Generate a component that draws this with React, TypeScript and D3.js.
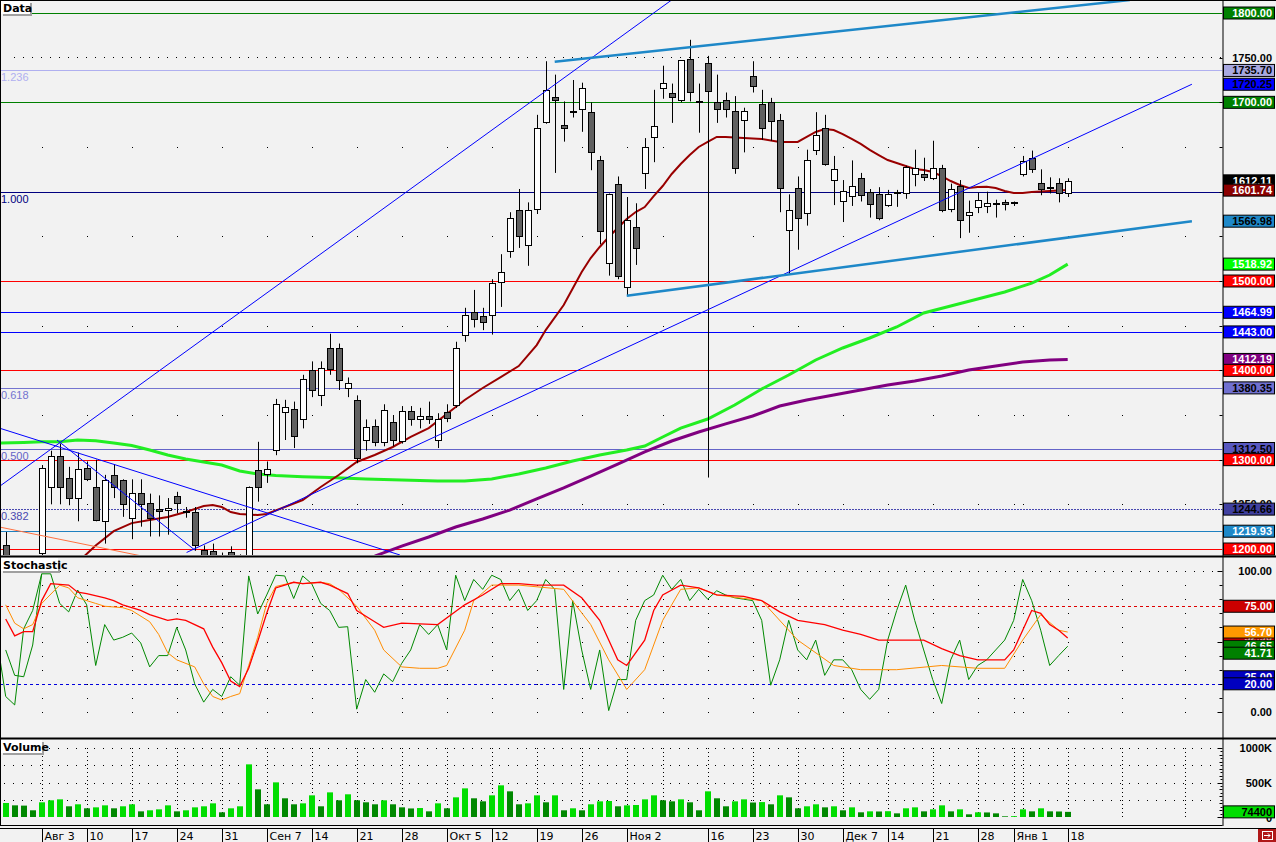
import React from 'react';
import * as d3 from 'd3';

// ---------- data ----------
// daily candles, bar 0 = Jul 28
const opens = [1204, 1180, 1170, 1178, 1196, 1269, 1304, 1279, 1257, 1291, 1269, 1231, 1283, 1277, 1235, 1263, 1251, 1245, 1244, 1259,
  1242, 1241, 1199, 1198, 1192, 1197, 1188, 1193, 1288, 1284, 1311, 1353, 1357, 1345, 1400, 1372, 1425, 1425, 1380, 1367,
  1322, 1338, 1320, 1342, 1321, 1354, 1346, 1349, 1322, 1353, 1361, 1440, 1465, 1461, 1462, 1499, 1534, 1580, 1540, 1581,
  1678, 1706, 1675, 1690, 1693, 1689, 1635, 1520, 1609, 1493, 1560, 1621, 1661, 1716, 1710, 1703, 1749, 1701, 1744, 1700,
  1703, 1690, 1680, 1730, 1698, 1700, 1680, 1557, 1604, 1576, 1647, 1671, 1613, 1589, 1595, 1615, 1600, 1597, 1585, 1599.5,
  1598, 1620, 1620, 1615, 1627, 1581, 1606, 1574, 1583, 1584, 1587, 1588.5, 1587, 1620, 1638, 1610, 1605, 1610, 1598];
const highs = [1219, 1188, 1185, 1190, 1294, 1310, 1318, 1292, 1308, 1298, 1300, 1283, 1295, 1278, 1278, 1278, 1262, 1260, 1257, 1264,
  1247, 1247, 1204, 1206, 1196, 1203, 1194, 1270, 1320, 1298, 1368, 1367, 1365, 1395, 1410, 1410, 1441, 1430, 1392, 1372,
  1345, 1345, 1362, 1350, 1360, 1360, 1358, 1365, 1352, 1362, 1432, 1470, 1490, 1470, 1502, 1530, 1577, 1603, 1588, 1686,
  1746, 1731, 1701, 1725, 1722, 1700, 1640, 1598, 1617, 1594, 1587, 1660, 1714, 1741, 1721, 1747, 1770, 1721, 1752, 1731,
  1711, 1707, 1694, 1746, 1714, 1705, 1687, 1597, 1617, 1647, 1689, 1686, 1640, 1613, 1635, 1621, 1603, 1605, 1602, 1602,
  1629, 1647, 1638, 1657, 1630, 1609, 1613, 1590, 1599, 1600, 1591, 1591, 1589, 1640, 1646, 1625, 1616, 1615, 1615];
const lows = [1175, 1160, 1160, 1165, 1192, 1250, 1250, 1249, 1231, 1276, 1231, 1206, 1257, 1236, 1211, 1225, 1214, 1214, 1216, 1240,
  1235, 1198, 1185, 1185, 1180, 1185, 1178, 1190, 1253, 1274, 1305, 1322, 1313, 1335, 1370, 1360, 1395, 1378, 1370, 1296,
  1310, 1315, 1315, 1315, 1318, 1338, 1335, 1340, 1313, 1342, 1358, 1432, 1448, 1445, 1440, 1471, 1526, 1537, 1517, 1575,
  1676, 1621, 1656, 1683, 1667, 1624, 1541, 1506, 1502, 1484, 1518, 1603, 1633, 1704, 1677, 1700, 1701, 1666, 1280, 1677,
  1683, 1620, 1644, 1711, 1658, 1657, 1577, 1508, 1535, 1562, 1641, 1629, 1585, 1566, 1584, 1589, 1571, 1568, 1583, 1583,
  1592, 1606, 1612, 1613, 1577, 1577, 1548, 1554, 1576, 1576, 1571, 1579, 1584, 1617, 1621, 1596, 1598, 1588, 1594];
const closes = [1185, 1170, 1178, 1188, 1291, 1304, 1269, 1257, 1290, 1278, 1232, 1277, 1269, 1250, 1263, 1250, 1235, 1243, 1246, 1251,
  1241, 1205, 1190, 1192, 1186, 1193, 1190, 1269, 1269, 1289, 1362, 1359, 1326, 1390, 1378, 1403, 1402, 1389, 1386, 1302,
  1337, 1320, 1356, 1322, 1354, 1345, 1349, 1345, 1345, 1347, 1425, 1462, 1457, 1454, 1498, 1510, 1570, 1550, 1580, 1671,
  1714, 1703, 1671, 1690.5, 1716, 1644, 1556, 1597, 1506, 1568, 1537, 1650, 1673, 1722, 1706, 1747, 1712, 1700.5, 1713, 1693,
  1693, 1626, 1690, 1718, 1671, 1679, 1604, 1580, 1571, 1635, 1663, 1631, 1625, 1601, 1606, 1596, 1586, 1571, 1597, 1600,
  1628, 1626, 1616, 1627, 1580, 1603, 1568, 1577, 1591, 1587, 1586.5, 1586.5, 1588, 1634, 1625, 1603, 1605.5, 1598, 1612.11];
// volume, thousands
const volumesK = [203, 169, 165, 97, 213, 242, 256, 155, 184, 126, 140, 169, 126, 155, 184, 82, 97, 111, 169, 82,
  97, 140, 155, 198, 68, 126, 155, 763, 401, 184, 502, 271, 184, 198, 314, 155, 357, 242, 329, 242,
  213, 184, 242, 184, 140, 124, 130, 82, 198, 126, 285, 415, 271, 227, 314, 459, 372, 184, 198, 314,
  213, 314, 97, 126, 97, 184, 227, 232, 155, 169, 174, 256, 314, 242, 227, 256, 213, 97, 372, 271,
  155, 227, 256, 210, 216, 184, 314, 285, 126, 155, 184, 140, 155, 97, 140, 68, 82, 80, 84, 53,
  126, 140, 82, 111, 169, 82, 111, 39, 68, 66, 53, 10, 12, 111, 82, 126, 82, 80, 74.4];

// moving averages [bar, value]
const maShort: [number, number][] = [[8, 1185], [10, 1204], [12, 1220], [14, 1229], [16, 1232.5], [18, 1235.8], [20, 1241.4], [22, 1248.1],
  [23, 1249.2], [24, 1247], [25, 1241.4], [26, 1239.2], [28, 1238], [29, 1239.2], [31, 1247], [33, 1254.8], [35, 1269.4], [37, 1282.8],
  [39, 1297.4], [41, 1305.2], [43, 1314.2], [45, 1325.4], [47, 1335.4], [49, 1351.1], [51, 1366.8], [53, 1380.2], [55, 1392.5],
  [57, 1404.8], [59, 1428.3], [60, 1445.1], [62, 1473.1], [64, 1510.1], [65, 1525.7], [66, 1538.1], [67, 1549.2], [68, 1559.3],
  [69, 1569.4], [70, 1577.2], [71, 1582.8], [72, 1595.1], [73, 1606.3], [74, 1619.8], [75, 1631], [76, 1641], [77, 1650],
  [78, 1655.6], [79, 1661.2], [80, 1661.2], [82, 1660], [84, 1659], [86, 1655.6], [88, 1655.6], [89, 1661.2], [90, 1666.8],
  [91, 1670.1], [92, 1669], [93, 1664.5], [94, 1659], [95, 1653.4], [96, 1646.7], [97, 1641], [98, 1635.4], [99, 1632.1],
  [100, 1628.7], [101, 1625.4], [102, 1624.2], [103, 1622], [104, 1617.5], [105, 1611.9], [106, 1607.5], [107, 1604.1],
  [108, 1605.2], [109, 1605.6], [110, 1604.1], [111, 1600.7], [112, 1598.5], [113, 1598.5], [114, 1599.6], [116, 1600.7], [118, 1601.74]];
const maMid: [number, number][] = [[-0.6, 1318.6], [2, 1319.2], [4, 1320.1], [6, 1320.1], [8, 1322], [10, 1321.2], [12, 1318.6],
  [14, 1315.8], [16, 1310.8], [18, 1305.2], [20, 1300.7], [22, 1297.4], [24, 1294], [26, 1287.3], [28, 1284], [30, 1282.3],
  [33, 1280.9], [36, 1280], [40, 1278.4], [44, 1277.2], [48, 1276.1], [51, 1276.1], [54, 1278.4], [57, 1284], [60, 1290.7],
  [63, 1298.5], [66, 1305.2], [69, 1310.8], [71, 1315.3], [73, 1325.4], [75, 1335.4], [78, 1345.5], [81, 1361.2], [84, 1379.1],
  [87, 1394.8], [90, 1411.6], [93, 1425], [96, 1436.2], [99, 1448.5], [102, 1464.2], [105, 1472], [108, 1479.8], [111, 1487.7],
  [114, 1497.7], [116, 1506.7], [118, 1518.92]];
const maLong: [number, number][] = [[41, 1192.1], [44, 1203.3], [47, 1213.4], [50, 1224.6], [53, 1233.6], [56, 1243.6], [59, 1256],
  [62, 1268.3], [65, 1281.7], [68, 1295.1], [71, 1308.6], [74, 1320.9], [77, 1331], [80, 1340], [83, 1348.9], [86, 1360.1],
  [89, 1366.8], [92, 1372.4], [95, 1378], [98, 1383.6], [101, 1388], [104, 1393.6], [107, 1400.4], [110, 1404.8], [113, 1409.3],
  [116, 1411.5], [118, 1412.19]];

// stochastic
const stochFast = [44, 26, 25, 47.5, 98, 98, 77, 71, 86.5, 76, 33, 62, 51, 53, 56, 49, 32, 40, 40, 60,
  44, 20, 7, 16, 11, 25, 19, 96.5, 69.5, 83, 97, 96.5, 80.5, 96.5, 91, 77, 72, 60, 60.5, 2,
  23, 14, 27, 21.5, 34.5, 44, 62, 55, 62, 44, 97, 79, 94, 87, 97, 94, 79, 87, 72, 79,
  94, 87, 16, 79, 44, 16, 44, 1, 23, 23, 65, 79, 83, 97, 87, 94, 79, 87, 80, 86,
  83, 81, 80, 79, 65, 19, 37, 65, 44, 37, 51, 26, 37, 37, 30, 16, 9, 16, 51, 72,
  90, 65, 44, 23, 6, 37, 51, 23, 33, 37, 44, 51, 65, 94, 79, 58, 33, 40, 46.65];
const stochFast2: [number, number][] = [[-0.6, 36], [0, 11], [1, 5], [2, 59], [3, 72], [4, 98]];
const stochSignal: [number, number][] = [[0, 66], [1, 54], [2, 57], [3, 57], [4, 79], [5, 91], [7, 90], [8, 85], [9, 84], [11, 81], [12, 79],
  [13, 76], [15, 72], [16, 69], [18, 65], [19, 66], [20, 65], [22, 59], [23, 46], [24, 35], [25, 22], [26, 18], [27, 31], [28, 50],
  [29, 70], [30, 88], [32, 92], [33, 91], [35, 92], [36, 90], [38, 84], [39, 72], [41, 64], [42, 60], [44, 63], [48, 62], [51, 76],
  [53, 83], [55, 91], [57, 91], [59, 90], [62, 90], [64, 81], [66, 65], [67, 51], [68, 37], [69, 33], [71, 51], [72, 72], [73, 83],
  [75, 90], [77, 88], [79, 83], [82, 82], [84, 79], [86, 71], [88, 65], [91, 62], [93, 58], [95, 55], [97, 51], [99, 51], [102, 51],
  [104, 45], [106, 40], [108, 37], [111, 37], [112, 44], [113, 58], [114, 72], [115, 70], [116, 62], [117, 58], [118, 52.5]];
const stochSlow: [number, number][] = [[0, 76], [1, 63], [2, 59], [3, 62], [4, 77], [6, 90], [7, 88], [8, 81], [10, 77], [11, 75], [13, 74],
  [14, 72], [16, 64], [17, 55], [18, 42], [19, 37], [21, 32], [22, 20], [23, 11], [24, 8.5], [25, 11], [26, 13], [27, 33], [28, 53],
  [29, 77], [30, 89], [32, 92], [33, 91], [35, 92], [36, 91], [37, 87], [39, 75], [41, 58], [42, 44], [44, 32], [46, 31], [48, 31],
  [49, 33], [51, 58], [52, 79], [54, 90], [57, 90], [62, 87], [65, 62], [67, 37], [69, 16], [71, 30], [73, 65], [75, 87], [77, 88],
  [79, 83], [84, 79], [88, 51], [92, 33], [95, 30], [99, 30], [104, 33], [108, 31], [111, 31], [113, 51], [115, 69], [117, 58], [118, 56.7]];

// drawn objects [bar, price]
const steepLine: [number, number][] = [[-0.63, 1270.5], [74.0, 1814.6]];
const risingLine: [number, number][] = [[20.1, 1196.1], [131.8, 1720.25]];
const fallingLine: [number, number][] = [[-0.63, 1335.1], [43.8, 1193.3]];
const fallingLine2: [number, number][] = [[5.7, 1322], [21, 1198.9]];
const orangeLine: [number, number][] = [[-0.63, 1224.5], [15.2, 1192]];
const channelTop: [number, number][] = [[61, 1745.4], [124.9, 1814.5]];
const channelBottom: [number, number][] = [[69, 1483.5], [131.8, 1566.98]];

const levels = [1800, 1700, 1500, 1464.99, 1443, 1400, 1300, 1219.93, 1200];
const fibValues = [1735.7, 1600, 1380.35, 1312.5, 1244.66];
const fibLabels = ['1.236', '1.000', '0.618', '0.500', '0.382'];

const priceMarks = [1800, 1735.7, 1720.25, 1700, 1612.11, 1601.74, 1566.98, 1518.92, 1500, 1464.99, 1443, 1412.19, 1400, 1380.35, 1312.5, 1300, 1244.66, 1219.93, 1200];
const stochMarks = [75, 52.9, 56.7, 46.65, 41.71, 25, 20];
const lastVolumeK = 74.4;

const tickBars = [4, 9, 14, 19, 24, 29, 34, 39, 44, 49, 54, 59, 64, 69, 78, 83, 88, 93, 98, 103, 108, 112, 118];
const tickLabels = ['Авг 3', '10', '17', '24', '31', 'Сен 7', '14', '21', '28', 'Окт 5', '12', '19', '26', 'Ноя 2', '16', '23', '30', 'Дек 7', '14', '21', '28', 'Янв 1', '18'];
const weekGridBars = [4, 9, 14, 19, 24, 29, 34, 39, 44, 49, 54, 59, 64, 69, 73, 78, 83, 88, 93, 98, 103, 108, 112, 113, 118, 124, 131];

// ---------- styles ----------
const BG = '#f2f2f2';
const levelColors = ['#008000', '#008000', '#ff0000', '#0000ff', '#0000ff', '#ff0000', '#ff0000', '#1e80c0', '#ff0000'];
const fibColors = ['#b0b0f0', '#000080', '#7474d0', '#6464c8', '#4848b0'];
const priceMarkStyle: [string, string][] = [['#008000', '#fff'], ['#a8a8e0', '#000'], ['#0000ff', '#000'], ['#008000', '#fff'],
  ['#000000', '#fff'], ['#8b0000', '#fff'], ['#1e88c8', '#000'], ['#00ff00', '#fff'], ['#ff0000', '#fff'], ['#0000ff', '#fff'],
  ['#0000ff', '#fff'], ['#800080', '#fff'], ['#ff0000', '#fff'], ['#7070d0', '#000'], ['#5858c0', '#000'], ['#ff0000', '#fff'],
  ['#4040a0', '#000'], ['#1e88c8', '#fff'], ['#ff0000', '#fff']];
const stochMarkStyle: [string, string][] = [['#cc0000', '#fff'], ['#ff0000', '#fff'], ['#ff9900', '#fff'], ['#008000', '#fff'],
  ['#008000', '#fff'], ['#0000c0', '#fff'], ['#0000c0', '#fff']];

const AXIS_FONT = '"Liberation Sans", Arial, sans-serif';

function Title({ x, y, w, text }: { x: number; y: number; w: number; text: string }) {
  return (
    <g>
      <rect x={x + 2} y={y + 2} width={w} height={13} fill="#a0a0a0" />
      <rect x={x} y={y} width={w} height={13} fill="#fff" />
      <text x={x + 2} y={y + 10.5} fontFamily='"DejaVu Sans", sans-serif' fontWeight="bold" fontSize={11} fill="#000">{text}</text>
    </g>
  );
}

function Mark({ y, fill, color, text }: { y: number; fill: string; color: string; text: string }) {
  return (
    <g>
      <rect x={1223.5} y={y - 6} width={51} height={12} fill={fill} stroke="#000" strokeWidth={1} />
      <text x={1272} y={y + 4} textAnchor="end" fontFamily={AXIS_FONT} fontWeight="bold" fontSize={11} fill={color}>{text}</text>
    </g>
  );
}

export default function App() {
  const PLOT_R = 1222.5;
  const xBar = d3.scaleLinear().domain([0, 118]).range([5.7, 1067.7]);
  const yPrice = d3.scaleLinear().domain([1200, 1800]).range([549, 13]);
  const yStoch = d3.scaleLinear().domain([0, 100]).range([712, 571]);
  const yVol = d3.scaleLinear().domain([0, 1000]).range([817, 748]);

  const priceLine = d3.line<[number, number]>().x(d => xBar(d[0])).y(d => yPrice(d[1]));
  const stochPairLine = d3.line<[number, number]>().x(d => xBar(d[0])).y(d => yStoch(d[1]));
  const stochFastLine = d3.line<number>().x((_, i) => xBar(i)).y(d => yStoch(d));

  const allBars = d3.range(0, 136).filter(i => xBar(i) < PLOT_R - 2);
  const bars = d3.range(opens.length);

  return (
    <svg width={1276} height={842} style={{ position: 'fixed', left: 0, top: 0, display: 'block' }}>
      <defs>
        <clipPath id="cMain"><rect x={1} y={1} width={PLOT_R - 1} height={554} /></clipPath>
        <clipPath id="cStoch"><rect x={1} y={558} width={PLOT_R - 1} height={179} /></clipPath>
        <clipPath id="cVol"><rect x={1} y={740} width={PLOT_R - 1} height={85} /></clipPath>
      </defs>
      <rect x={0} y={0} width={1276} height={842} fill={BG} />

      {/* ---------- main panel ---------- */}
      <g clipPath="url(#cMain)">
        {allBars.map(i => <rect key={'d' + i} x={Math.round(xBar(i)) + 8} y={57} width={1} height={1} fill="#000" />)}
        {[1650, 1550, 1450, 1350, 1250].map(v => weekGridBars.map(b => (
          <rect key={v + '-' + b} x={Math.round(xBar(b))} y={Math.round(yPrice(v))} width={1} height={1} fill="#000" />
        )))}
        {fibValues.map((v, i) => (
          <g key={'f' + i}>
            <line x1={0} x2={PLOT_R} y1={Math.round(yPrice(v)) + 0.5} y2={Math.round(yPrice(v)) + 0.5}
              stroke={fibColors[i]} strokeWidth={1} strokeDasharray={i === 4 ? '2 1' : undefined} />
            <text x={1} y={yPrice(v) + 11} fontFamily={AXIS_FONT} fontSize={11} fill={fibColors[i]}>{fibLabels[i]}</text>
          </g>
        ))}
        {levels.map((v, i) => (
          <line key={'l' + i} x1={0} x2={PLOT_R} y1={Math.round(yPrice(v)) + 0.5} y2={Math.round(yPrice(v)) + 0.5}
            stroke={levelColors[i]} strokeWidth={1} />
        ))}
        <path d={priceLine(maMid) || ''} fill="none" stroke="#22ee22" strokeWidth={3} />
        <path d={priceLine(maLong) || ''} fill="none" stroke="#800080" strokeWidth={3} />
        <path d={priceLine(maShort) || ''} fill="none" stroke="#990000" strokeWidth={2} />
        {bars.map(i => {
          const cx = Math.round(xBar(i)) + 0.5;
          const o = opens[i], c = closes[i];
          const top = Math.round(yPrice(Math.max(o, c))) + 0.5;
          const bot = Math.round(yPrice(Math.min(o, c))) + 0.5;
          const up = c >= o;
          return (
            <g key={'c' + i}>
              <line x1={cx} x2={cx} y1={yPrice(highs[i])} y2={yPrice(lows[i])} stroke="#000" strokeWidth={1} />
              <rect x={cx - 3} y={top} width={6} height={Math.max(bot - top, 1)} fill={up ? '#fff' : '#606060'} stroke="#000" strokeWidth={1} />
            </g>
          );
        })}
        <path d={priceLine(orangeLine) || ''} fill="none" stroke="#ff7040" strokeWidth={1} />
        <path d={priceLine(steepLine) || ''} fill="none" stroke="#0000ff" strokeWidth={1} />
        <path d={priceLine(risingLine) || ''} fill="none" stroke="#0000ff" strokeWidth={1} />
        <path d={priceLine(fallingLine) || ''} fill="none" stroke="#0000ff" strokeWidth={1} />
        <path d={priceLine(fallingLine2) || ''} fill="none" stroke="#0000ff" strokeWidth={1} />
        <path d={priceLine(channelTop) || ''} fill="none" stroke="#1e88c8" strokeWidth={2.5} />
        <path d={priceLine(channelBottom) || ''} fill="none" stroke="#1e88c8" strokeWidth={2.5} />
      </g>

      {/* ---------- stochastic panel ---------- */}
      <g clipPath="url(#cStoch)">
        {allBars.map(i => <rect key={'sd' + i} x={Math.round(xBar(i))} y={571} width={1} height={1} fill="#000" />)}
        {d3.range(0, 100, 10).map(v => weekGridBars.map(b => (
          <rect key={'s' + v + '-' + b} x={Math.round(xBar(b))} y={Math.round(yStoch(v))} width={1} height={1} fill="#000" />
        )))}
        <line x1={0} x2={PLOT_R} y1={Math.round(yStoch(75)) + 0.5} y2={Math.round(yStoch(75)) + 0.5} stroke="#dd0000" strokeDasharray="3 3" />
        <line x1={0} x2={PLOT_R} y1={Math.round(yStoch(20)) + 0.5} y2={Math.round(yStoch(20)) + 0.5} stroke="#0000dd" strokeDasharray="3 3" />
        <path d={stochPairLine(stochFast2) || ''} fill="none" stroke="#008800" strokeWidth={1} />
        <path d={stochFastLine(stochFast) || ''} fill="none" stroke="#008800" strokeWidth={1} />
        <path d={stochPairLine(stochSlow) || ''} fill="none" stroke="#ff8c00" strokeWidth={1} />
        <path d={stochPairLine(stochSignal) || ''} fill="none" stroke="#ff0000" strokeWidth={1.3} />
      </g>

      {/* ---------- volume panel ---------- */}
      <g clipPath="url(#cVol)">
        {[1000, 750, 500, 250].map(v => allBars.map(i => (
          <rect key={'vd' + v + '-' + i} x={Math.round(xBar(i)) - 2} y={Math.round(yVol(v))} width={1} height={1} fill="#000" />
        )))}
        {weekGridBars.map(b => (
          <line key={'vg' + b} x1={Math.round(xBar(b)) + 0.5} x2={Math.round(xBar(b)) + 0.5} y1={yVol(1000)} y2={yVol(0)}
            stroke="#000" strokeDasharray="1 3" />
        ))}
        {volumesK.map((v, i) => {
          const rising = i === 0 || v > volumesK[i - 1];
          return (
            <rect key={'v' + i} x={Math.round(xBar(i)) - 3} y={yVol(v)} width={6} height={yVol(0) - yVol(v)}
              fill={rising ? '#00dd00' : '#008800'} />
          );
        })}
      </g>

      {/* ---------- frames ---------- */}
      <line x1={0} x2={1276} y1={0.5} y2={0.5} stroke="#000" />
      <line x1={0.5} x2={0.5} y1={0} y2={826} stroke="#000" />
      <rect x={0} y={555.5} width={1276} height={2} fill="#000" />
      <rect x={0} y={737.5} width={1276} height={2} fill="#000" />
      <line x1={0} x2={PLOT_R} y1={825.5} y2={825.5} stroke="#000" />
      <line x1={0} x2={1276} y1={828.5} y2={828.5} stroke="#000" />
      <line x1={PLOT_R + 0.5} x2={PLOT_R + 0.5} y1={0} y2={826} stroke="#000" />

      <Title x={1} y={1} w={29} text="Data" />
      <Title x={1} y={558} w={57} text="Stochastic" />
      <Title x={1} y={740} w={41} text="Volume" />

      {/* ---------- price axis ---------- */}
      {d3.range(1250, 1800, 50).map(v => (
        <line key={'pt' + v} x1={PLOT_R - 3} x2={PLOT_R} y1={Math.round(yPrice(v)) + 0.5} y2={Math.round(yPrice(v)) + 0.5} stroke="#000" />
      ))}
      {[1750, 1250].map(v => (
        <text key={'pl' + v} x={1272} y={yPrice(v) + 4} textAnchor="end" fontFamily={AXIS_FONT} fontWeight="bold" fontSize={11}>{v.toFixed(2)}</text>
      ))}
      {priceMarks.map((v, i) => (
        <Mark key={'pm' + i} y={yPrice(v)} fill={priceMarkStyle[i][0]} color={priceMarkStyle[i][1]} text={v.toFixed(2)} />
      ))}

      {/* ---------- stochastic axis ---------- */}
      {d3.range(0, 101, 10).map(v => (
        <line key={'st' + v} x1={PLOT_R - (v % 50 === 0 ? 5 : 3)} x2={PLOT_R} y1={Math.round(yStoch(v)) + 0.5} y2={Math.round(yStoch(v)) + 0.5} stroke="#000" />
      ))}
      {[100, 0].map(v => (
        <text key={'sl' + v} x={1272} y={yStoch(v) + 4} textAnchor="end" fontFamily={AXIS_FONT} fontWeight="bold" fontSize={11}>{v.toFixed(2)}</text>
      ))}
      {stochMarks.map((v, i) => (
        <Mark key={'sm' + i} y={yStoch(v)} fill={stochMarkStyle[i][0]} color={stochMarkStyle[i][1]} text={v.toFixed(2)} />
      ))}

      {/* ---------- volume axis ---------- */}
      {d3.range(0, 1001, 50).map(v => (
        <line key={'vt' + v} x1={PLOT_R - (v % 500 === 0 ? 5 : v % 100 === 0 ? 3 : 2)} x2={PLOT_R}
          y1={Math.round(yVol(v)) + 0.5} y2={Math.round(yVol(v)) + 0.5} stroke="#000" />
      ))}
      {[1000, 500].map(v => (
        <text key={'vl' + v} x={1272} y={yVol(v) + 4} textAnchor="end" fontFamily={AXIS_FONT} fontWeight="bold" fontSize={11}>{v}K</text>
      ))}
      <text x={1272} y={yVol(0) + 5} textAnchor="end" fontFamily={AXIS_FONT} fontWeight="bold" fontSize={11}>0</text>
      <Mark y={yVol(lastVolumeK)} fill="#00dd00" color="#000" text={String(Math.round(lastVolumeK * 1000))} />

      {/* ---------- date axis ---------- */}
      {tickBars.map((b, i) => {
        const x = Math.round(xBar(b)) + 0.5;
        return (
          <g key={'dt' + i}>
            <line x1={x} x2={x} y1={829} y2={842} stroke="#000" />
            <text x={x + 2} y={839.5} fontFamily='"DejaVu Sans", sans-serif' fontSize={11} fill="#000">{tickLabels[i]}</text>
          </g>
        );
      })}
      <rect x={1258} y={829} width={18} height={13} fill="#b01818" />
      <rect x={1262.5} y={831.5} width={10} height={8} fill="none" stroke="#fff" />
      <path d="M1264 835.5 H1270 M1268 833.5 L1270 835.5 L1268 837.5" fill="none" stroke="#fff" />
    </svg>
  );
}
